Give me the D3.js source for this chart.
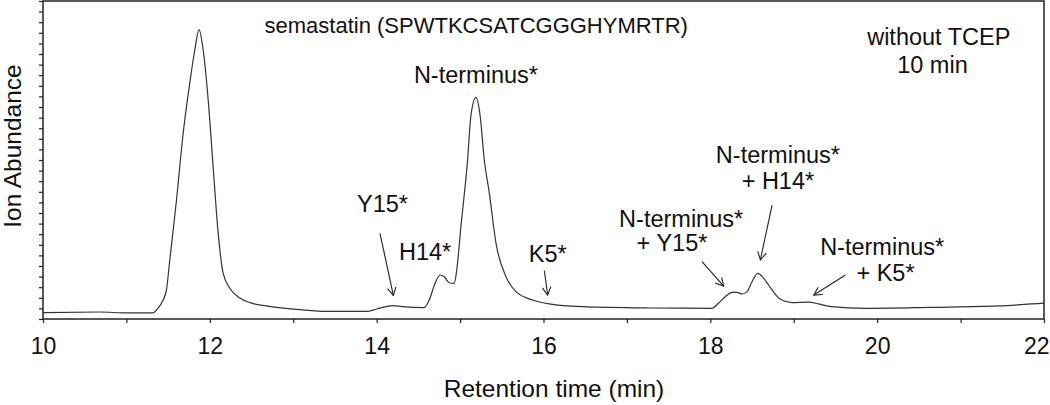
<!DOCTYPE html>
<html>
<head>
<meta charset="utf-8">
<script src="https://cdn.jsdelivr.net/npm/d3@7"></script>
<style>
  body { margin: 0; background: #fff; }
  svg text { font-family: "Liberation Sans", Arial, sans-serif; fill: #111; }
</style>
</head>
<body>
<div id="chart"></div>
<script>
  const width = 1050, height = 405;
  const margin = { top: 1, right: 5, bottom: 86, left: 43 };

  // chromatogram trace: retention time (min) and relative ion abundance
  const times = [10.0, 10.68, 11.0, 11.32, 11.36, 11.44, 11.48, 11.52, 11.60, 11.68, 11.76, 11.82, 11.87,
    11.92, 11.98, 12.04, 12.10, 12.16, 12.24, 12.36, 12.48, 12.68, 12.99, 13.43, 13.88, 14.0,
    14.19, 14.31, 14.57, 14.63, 14.70, 14.76, 14.81, 14.87, 14.93, 14.96, 15.01, 15.09, 15.13, 15.19,
    15.24, 15.29, 15.35, 15.43, 15.55, 15.67, 15.87, 16.07, 16.46, 17.26, 18.02, 18.10, 18.18, 18.26,
    18.32, 18.38, 18.44, 18.50, 18.57, 18.64, 18.74, 18.84, 18.98, 19.18, 19.30, 19.45, 19.86, 20.65,
    21.45, 21.96, 22.0];
  const abundance = [0.61, 0.66, 0.57, 0.57, 0.85, 1.79, 2.74, 5.57, 11.2, 17.5, 22.3, 25.4, 27.3,
    25.4, 20.7, 14.3, 8.1, 4.3, 2.9, 1.98, 1.54, 1.23, 0.94, 0.71, 0.71, 0.94,
    1.27, 1.16, 1.08, 1.79, 3.37, 4.15, 3.99, 3.42, 3.37, 4.62, 8.71, 15.0, 19.2, 20.9,
    19.2, 15.0, 11.9, 7.17, 3.99, 2.58, 1.79, 1.42, 1.16, 1.04, 1.01, 1.51, 2.10, 2.52,
    2.52, 2.36, 2.58, 3.52, 4.31, 3.84, 2.74, 1.86, 1.54, 1.60, 1.42, 1.16, 1.01, 1.10,
    1.23, 1.48, 1.5];

  const xTicks = d3.range(10, 23);
  const yTicks = d3.range(0, 31);

  // peak labels: text lines, anchor time, baseline abundance
  const labelText = ["semastatin (SPWTKCSATCGGGHYMRTR)", "without TCEP", "10 min", "N-terminus*",
    "Y15*", "H14*", "K5*", "N-terminus*", "+ Y15*", "N-terminus*", "+ H14*", "N-terminus*", "+ K5*"];
  const labelTime = [12.656, 19.88, 20.24, 15.19, 14.07, 14.58, 16.05, 17.65, 17.54, 18.81, 18.81, 20.06, 20.10];
  const labelValue = [26.98, 25.85, 23.2, 22.26, 10.09, 5.57, 5.38, 8.68, 6.42, 14.72, 12.26, 6.04, 3.58];
  const labelAnchor = ["start", "start", "start", "middle", "middle", "middle", "middle",
    "middle", "middle", "middle", "middle", "middle", "middle"];

  // arrows: from [time, value] to tip [time, value]
  const arrowFrom = [[14.04, 8.08], [16.01, 4.56], [17.90, 5.41], [18.74, 10.75], [19.62, 4.15]];
  const arrowTo = [[14.20, 2.22], [16.05, 2.26], [18.16, 3.11], [18.60, 5.57], [19.24, 2.26]];

  const svg = d3.select('#chart')
    .append('svg')
    .attr('width', width)
    .attr('height', height);

  const x = d3.scaleLinear().domain([10, 22]).range([margin.left, width - margin.right - 1]);
  const y = d3.scaleLinear().domain([0, 30]).range([height - margin.bottom, margin.top]);

  // axes
  svg.append('g')
    .attr('transform', `translate(0,${height - margin.bottom})`)
    .call(d3.axisBottom(x).tickValues(xTicks).tickSize(4).tickPadding(15)
      .tickFormat(d => d % 2 === 0 ? d : ''))
    .call(g => g.select('.domain').remove())
    .call(g => g.selectAll('line').attr('stroke', '#222').attr('stroke-width', 1.2))
    .call(g => g.selectAll('text').attr('font-size', 23).attr('fill', '#111'))
    .call(g => g.selectAll('.tick').filter(d => d === 22).select('text')
      .attr('text-anchor', 'end').attr('x', 5));

  svg.append('g')
    .attr('transform', `translate(${margin.left},0)`)
    .call(d3.axisLeft(y).tickValues(yTicks).tickSize(4).tickFormat(''))
    .call(g => g.select('.domain').remove())
    .call(g => g.selectAll('line').attr('stroke', '#222').attr('stroke-width', 1.2));

  // frame
  svg.append('rect')
    .attr('x', x(10)).attr('y', y(30))
    .attr('width', x(22) - x(10)).attr('height', y(0) - y(30))
    .attr('fill', 'none').attr('stroke', '#222').attr('stroke-width', 1.5);

  // trace
  const line = d3.line()
    .x((d, i) => x(times[i]))
    .y(d => y(d))
    .curve(d3.curveMonotoneX);

  svg.append('path')
    .datum(abundance)
    .attr('d', line)
    .attr('fill', 'none')
    .attr('stroke', '#333')
    .attr('stroke-width', 1.2);

  // arrows
  const arrows = svg.append('g').attr('stroke', '#222').attr('stroke-width', 1.1).attr('fill', 'none');
  arrowFrom.forEach((f, i) => {
    const x1 = x(f[0]), y1 = y(f[1]), x2 = x(arrowTo[i][0]), y2 = y(arrowTo[i][1]);
    const a = Math.atan2(y2 - y1, x2 - x1);
    const len = 9, spread = 0.5;
    arrows.append('line').attr('x1', x1).attr('y1', y1).attr('x2', x2).attr('y2', y2);
    arrows.append('path')
      .attr('d', `M${x2 - len * Math.cos(a - spread)},${y2 - len * Math.sin(a - spread)}L${x2},${y2}L${x2 - len * Math.cos(a + spread)},${y2 - len * Math.sin(a + spread)}`);
  });

  // labels
  svg.append('g')
    .selectAll('text')
    .data(labelText)
    .join('text')
    .attr('x', (d, i) => x(labelTime[i]))
    .attr('y', (d, i) => y(labelValue[i]))
    .attr('text-anchor', (d, i) => labelAnchor[i])
    .attr('font-size', (d, i) => i === 0 ? 22 : 23.5)
    .text(d => d);

  // axis titles
  svg.append('text')
    .attr('x', 554).attr('y', 397)
    .attr('text-anchor', 'middle')
    .attr('font-size', 24.5)
    .text('Retention time (min)');

  svg.append('text')
    .attr('transform', 'translate(21,146) rotate(-90)')
    .attr('text-anchor', 'middle')
    .attr('font-size', 24.5)
    .text('Ion Abundance');
</script>
</body>
</html>
